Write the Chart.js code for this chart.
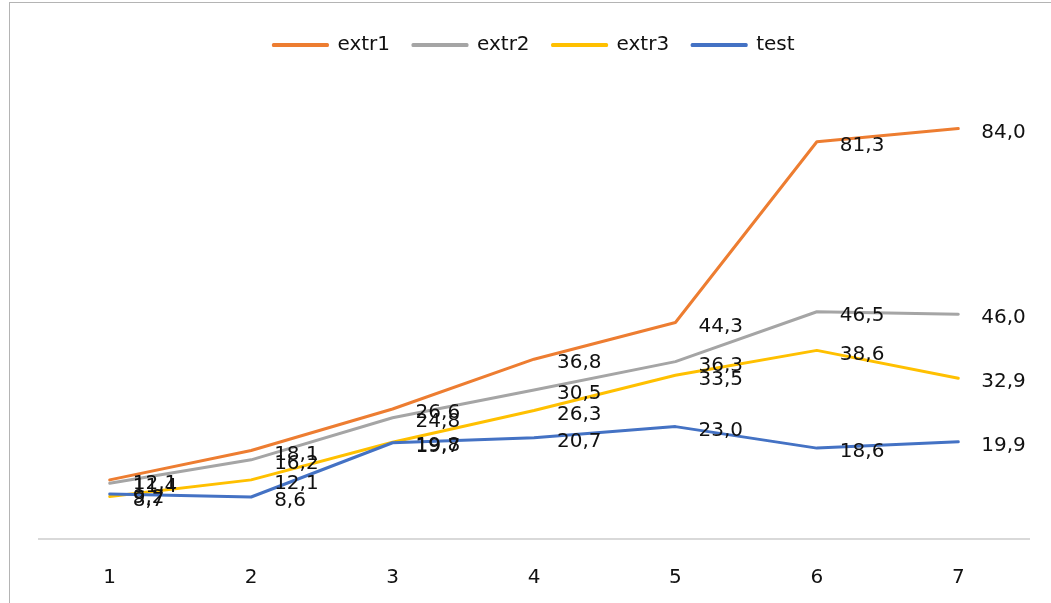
<!DOCTYPE html>
<html>
<head>
<meta charset="utf-8">
<script src="https://cdn.jsdelivr.net/npm/chart.js@4.4.1/dist/chart.umd.min.js"></script>
<style>
  html, body { margin: 0; padding: 0; background: #fff; }
  #wrap { position: relative; width: 1051px; height: 603px; overflow: hidden; }
  #frame { position: absolute; left: 9px; top: 2px; width: 1100px; height: 700px;
           border-left: 1px solid #b4b4b4; border-top: 1px solid #b4b4b4; pointer-events: none; }
  canvas { position: absolute; left: 0; top: 0; }
</style>
</head>
<body>
<div id="wrap">
  <canvas id="chart" width="1051" height="603"></canvas>
  <div id="frame"></div>
</div>
<script>
// Categories along the x axis
const categories = ['1', '2', '3', '4', '5', '6', '7'];

// Series values
const extr1 = [12.1, 18.1, 26.6, 36.8, 44.3, 81.3, 84.0];
const extr2 = [11.4, 16.2, 24.8, 30.5, 36.3, 46.5, 46.0];
const extr3 = [8.7, 12.1, 19.8, 26.3, 33.5, 38.6, 32.9];
const test  = [9.2, 8.6, 19.7, 20.7, 23.0, 18.6, 19.9];

const seriesNames = ['extr1', 'extr2', 'extr3', 'test'];
const seriesColors = ['#ED7D31', '#A5A5A5', '#FFC000', '#4472C4'];
const seriesValues = [extr1, extr2, extr3, test];

const FONT = 'DejaVu Sans';

// Value labels drawn to the right of every point, decimal comma
const valueLabels = {
  id: 'valueLabels',
  afterDatasetsDraw(chart) {
    const ctx = chart.ctx;
    ctx.save();
    ctx.font = '20px "' + FONT + '"';
    ctx.fillStyle = '#111';
    ctx.textAlign = 'left';
    ctx.textBaseline = 'middle';
    chart.data.datasets.forEach((ds, i) => {
      const meta = chart.getDatasetMeta(i);
      meta.data.forEach((pt, j) => {
        const txt = ds.data[j].toFixed(1).replace('.', ',');
        ctx.fillText(txt, pt.x + 23, pt.y + 4);
      });
    });
    ctx.restore();
  }
};

new Chart(document.getElementById('chart'), {
  type: 'line',
  data: {
    labels: categories,
    datasets: seriesNames.map((name, i) => ({
      label: name,
      data: seriesValues[i],
      borderColor: seriesColors[i],
      backgroundColor: seriesColors[i],
      borderWidth: 3,
      pointRadius: 0,
      tension: 0,
      borderJoinStyle: 'round',
      borderCapStyle: 'round',
      // later series are painted above earlier ones
      order: seriesNames.length - i
    }))
  },
  options: {
    responsive: false,
    animation: false,
    layout: { padding: { left: 39, right: 22, top: 12, bottom: 0 } },
    plugins: {
      tooltip: { enabled: false },
      legend: {
        position: 'top',
        align: 'center',
        labels: {
          boxWidth: 54,
          boxHeight: 1,
          padding: 23,
          color: '#111',
          font: { family: FONT, size: 20 },
          sort: (a, b) => a.datasetIndex - b.datasetIndex
        }
      }
    },
    scales: {
      x: {
        offset: true,
        grid: { display: false, drawTicks: false, offset: true },
        border: { display: true, color: '#d9d9d9', width: 2 },
        ticks: { color: '#111', padding: 27, font: { family: FONT, size: 20 } },
        afterFit(scale) { scale.height = 64; }
      },
      y: {
        display: false,
        min: 0,
        max: 97
      }
    }
  },
  plugins: [valueLabels]
});
</script>
</body>
</html>
